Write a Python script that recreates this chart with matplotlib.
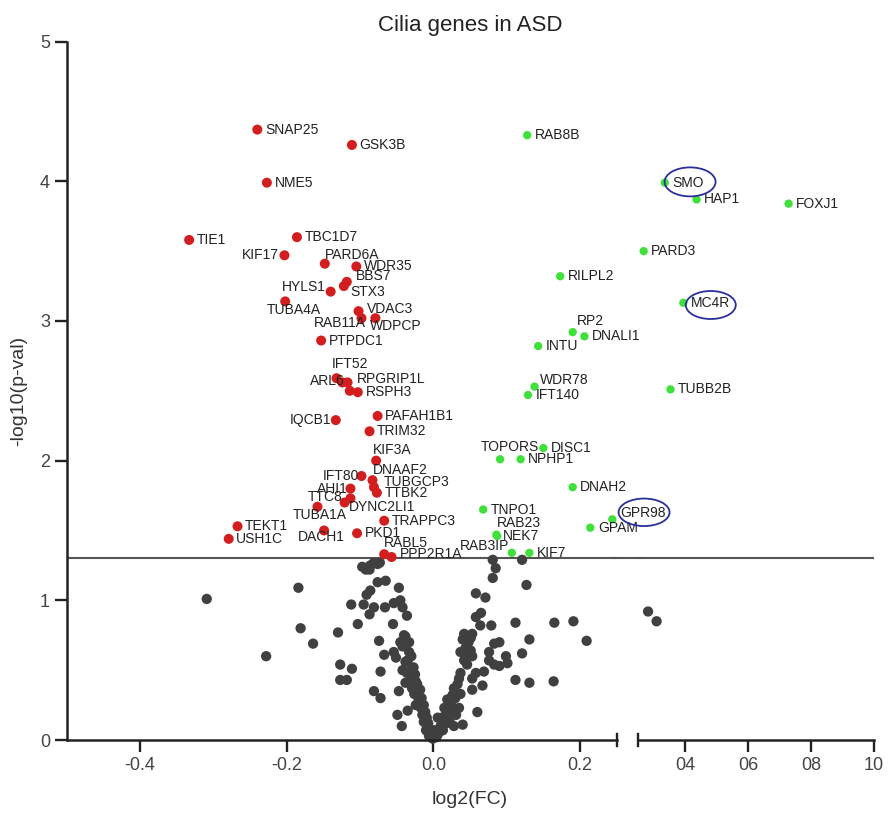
import matplotlib
matplotlib.use("Agg")
import matplotlib.pyplot as plt
from matplotlib.patches import Ellipse
from matplotlib.lines import Line2D
import matplotlib.transforms as mtransforms

plt.rcParams['font.family'] = ['Liberation Sans', 'DejaVu Sans']

# significant, down-regulated cilia genes
red_genes = ['SNAP25', 'GSK3B', 'NME5', 'TIE1', 'TBC1D7', 'KIF17', 'PARD6A', 'WDR35',
             'BBS7', 'STX3', 'HYLS1', 'TUBA4A', 'VDAC3', 'RAB11A', 'WDPCP', 'PTPDC1',
             'IFT52', 'ARL6', 'RPGRIP1L', '', 'RSPH3', 'IQCB1', 'PAFAH1B1', 'TRIM32',
             'KIF3A', 'IFT80', 'DNAAF2', 'TUBGCP3', 'TTBK2', 'AHI1', 'TTC8', 'DYNC2LI1',
             'TUBA1A', 'TEKT1', 'USH1C', 'DACH1', 'PKD1', 'TRAPPC3', 'RABL5', 'PPP2R1A']
red_fc = [-0.240, -0.111, -0.227, -0.333, -0.186, -0.203, -0.148, -0.105,
          -0.118, -0.122, -0.140, -0.202, -0.102, -0.098, -0.079, -0.153,
          -0.132, -0.124, -0.117, -0.114, -0.103, -0.133, -0.076, -0.087,
          -0.078, -0.098, -0.083, -0.081, -0.077, -0.113, -0.113, -0.121,
          -0.158, -0.267, -0.279, -0.149, -0.104, -0.067, -0.067, -0.057]
red_p = [4.37, 4.26, 3.99, 3.58, 3.60, 3.47, 3.41, 3.39,
         3.28, 3.25, 3.21, 3.14, 3.07, 3.02, 3.02, 2.86,
         2.59, 2.56, 2.56, 2.50, 2.49, 2.29, 2.32, 2.21,
         2.00, 1.89, 1.86, 1.81, 1.77, 1.80, 1.73, 1.70,
         1.67, 1.53, 1.44, 1.50, 1.48, 1.57, 1.33, 1.31]

# significant, up-regulated cilia genes
green_genes = ['RAB8B', 'SMO', 'HAP1', 'FOXJ1', 'PARD3', 'RILPL2', 'MC4R', 'RP2',
               'DNALI1', 'INTU', 'WDR78', 'IFT140', 'TUBB2B', 'DISC1', 'TOPORS', 'NPHP1',
               'DNAH2', 'TNPO1', 'GPR98', 'GPAM', 'RAB23', 'NEK7', 'RAB3IP', 'KIF7']
green_fc = [0.128, 0.336, 0.437, 0.729, 0.269, 0.173, 0.395, 0.190,
            0.206, 0.143, 0.138, 0.129, 0.354, 0.150, 0.091, 0.119,
            0.190, 0.068, 0.244, 0.214, 0.086, 0.087, 0.107, 0.131]
green_p = [4.33, 3.99, 3.87, 3.84, 3.50, 3.32, 3.13, 2.92,
           2.89, 2.82, 2.53, 2.47, 2.51, 2.09, 2.01, 2.01,
           1.81, 1.65, 1.58, 1.52, 1.47, 1.46, 1.34, 1.34]

# non-significant genes
gray_fc = [-0.097, -0.090, -0.086, -0.081, -0.076, -0.073, -0.092, -0.087,
           -0.076, -0.065, -0.047, -0.086, -0.091, -0.112, -0.095, -0.081, -0.066,
           -0.054, -0.045, -0.042, -0.087, -0.036, -0.103, -0.055, -0.130, -0.040,
           -0.074, -0.045, -0.042, -0.054, -0.033, -0.067, -0.051, -0.127, -0.111,
           -0.038, -0.042, -0.072, -0.036, -0.127, -0.118, -0.031, -0.024, -0.038,
           -0.029, -0.081, -0.047, -0.072, -0.022, -0.020, -0.024, -0.035, -0.017,
           -0.049, -0.015, -0.013, -0.043, -0.008, -0.004, -0.001,
           -0.030, -0.027, -0.025, -0.022, -0.018, -0.016, -0.013, -0.011, -0.009,
           -0.007, -0.005, -0.003, -0.020, -0.026, -0.031, -0.035, -0.033, -0.038,
           -0.028, -0.010, -0.006,
           -0.309, -0.184, -0.181, -0.164, -0.228,
           0.081, 0.085, 0.121, 0.081, 0.127, 0.058, 0.071, 0.065, 0.058, 0.064,
           0.079, 0.112, 0.042, 0.053, 0.040, 0.051, 0.090, 0.083, 0.131, 0.037,
           0.051, 0.053, 0.076, 0.121, 0.099, 0.042, 0.046, 0.076, 0.083, 0.090,
           0.101, 0.058, 0.069, 0.037, 0.053, 0.035, 0.112, 0.131, 0.067, 0.053,
           0.028, 0.026, 0.037, 0.019, 0.024, 0.015, 0.035, 0.060, 0.006, 0.017,
           0.040, 0.028, 0.010, 0.001, 0.006,
           0.004, 0.008, 0.012, 0.015, 0.020, 0.024, 0.030, 0.033, 0.028, 0.018,
           0.045, 0.044, 0.048, 0.022, 0.031, 0.013,
           0.165, 0.191, 0.209, 0.164, 0.283, 0.310]
gray_p = [1.24, 1.23, 1.25, 1.27, 1.26, 1.27, 1.22, 1.22,
          1.13, 1.14, 1.09, 1.07, 1.04, 0.97, 0.97, 0.95, 0.95,
          0.98, 1.00, 0.95, 0.90, 0.89, 0.83, 0.83, 0.77, 0.75,
          0.71, 0.70, 0.67, 0.63, 0.63, 0.61, 0.59, 0.54, 0.51,
          0.56, 0.50, 0.49, 0.48, 0.43, 0.43, 0.44, 0.42, 0.41,
          0.37, 0.35, 0.35, 0.30, 0.33, 0.29, 0.25, 0.21, 0.23,
          0.18, 0.18, 0.13, 0.10, 0.10, 0.05, 0.01,
          0.60, 0.52, 0.47, 0.40, 0.36, 0.30, 0.25, 0.20, 0.16,
          0.12, 0.08, 0.05, 0.27, 0.33, 0.50, 0.57, 0.70, 0.74,
          0.44, 0.07, 0.03,
          1.01, 1.09, 0.80, 0.69, 0.60,
          1.29, 1.23, 1.29, 1.16, 1.11, 1.05, 1.02, 0.91, 0.88, 0.82,
          0.82, 0.84, 0.76, 0.76, 0.72, 0.73, 0.70, 0.69, 0.72, 0.63,
          0.64, 0.60, 0.63, 0.62, 0.60, 0.57, 0.54, 0.57, 0.54, 0.53,
          0.55, 0.48, 0.49, 0.48, 0.44, 0.44, 0.43, 0.41, 0.39, 0.36,
          0.37, 0.32, 0.33, 0.29, 0.25, 0.23, 0.23, 0.20, 0.16, 0.13,
          0.11, 0.10, 0.10, 0.07, 0.04,
          0.02, 0.06, 0.11, 0.17, 0.20, 0.28, 0.30, 0.40, 0.21, 0.12,
          0.60, 0.66, 0.70, 0.14, 0.18, 0.07,
          0.84, 0.85, 0.71, 0.42, 0.92, 0.85]

p_cutoff = 1.301  # -log10(0.05)

left_ticks = [-0.4, -0.2, 0.0, 0.2]
left_ticklabels = ['-0.4', '-0.2', '0.0', '0.2']
right_ticks = [0.4, 0.6, 0.8, 1.0]
right_ticklabels = ['04', '06', '08', '10']

# label placement: (dx, dy in points, horizontal alignment)
label_pos = {
    'KIF17': (-4, 0, 'right'), 'PARD6A': (0, 6.5, 'left'), 'BBS7': (6.5, 4.3, 'left'),
    'STX3': (5, -4, 'left'), 'HYLS1': (-3.6, 3, 'right'), 'TUBA4A': (6.5, -6, 'center'),
    'VDAC3': (6, 1.5, 'left'), 'RAB11A': (3, -3.6, 'right'), 'WDPCP': (-3.6, -6, 'left'),
    'IFT52': (10, 10, 'center'), 'ARL6': (1.5, 0.7, 'right'), 'RPGRIP1L': (7, 2.5, 'left'),
    'IQCB1': (-3.6, 0, 'right'), 'KIF3A': (-2, 8, 'left'), 'IFT80': (-2, 0, 'right'),
    'DNAAF2': (0, 7, 'left'), 'TUBGCP3': (6.8, 3.6, 'left'), 'AHI1': (-2, 0, 'right'),
    'TTC8': (-5.8, 1, 'right'), 'DYNC2LI1': (3, -3.3, 'left'), 'TUBA1A': (2, -6, 'center'),
    'DACH1': (-2, -4.8, 'center'), 'RABL5': (0, 8, 'left'), 'PPP2R1A': (6, 2.5, 'left'),
    'RP2': (3, 8, 'left'), 'WDR78': (3.6, 4.8, 'left'), 'TOPORS': (7, 9, 'center'),
    'GPR98': (6, 4.8, 'left'), 'RAB23': (0, 8.6, 'left'), 'NEK7': (4, 0, 'left'),
    'RAB3IP': (-2, 4.8, 'right'),
}
# ellipse drawn round a label: centre offset and size, inches
ring_geom = {
    'SMO': (0.253, 0.008, 0.51, 0.29),
    'MC4R': (0.274, -0.022, 0.50, 0.28),
    'GPR98': (0.318, 0.07, 0.51, 0.275),
}

RED = '#d21e1e'
GREEN = '#3fe03a'
GRAY = '#404040'
INK = '#222222'

fig = plt.figure(figsize=(8.9, 8.14), dpi=100)
ax = fig.add_axes([0.0749, 0.0909, 0.618, 0.858])
ax2 = fig.add_axes([0.7165, 0.0909, 0.2655, 0.858])
split = 0.25
ax.set_xlim(-0.5, split)
ax2.set_xlim(split, 1.0)
for a in (ax, ax2):
    a.set_ylim(0, 5)
    a.patch.set_alpha(0)
    for s in ('top', 'right'):
        a.spines[s].set_visible(False)
    for s in ('left', 'bottom'):
        a.spines[s].set_linewidth(1.8)
        a.spines[s].set_color(INK)
    a.tick_params(direction='out', length=8.5, width=1.7, color=INK,
                  labelsize=13, labelcolor='#444444', pad=3.5)
    a.axhline(p_cutoff, color='#555555', lw=1.5, zorder=1)

ax.set_yticks(range(6))
ax.set_xticks(left_ticks)
ax.set_xticklabels(left_ticklabels)
ax2.spines['left'].set_visible(False)
ax2.set_yticks([])
ax2.set_xticks(right_ticks)
ax2.set_xticklabels(right_ticklabels)

# carry the cutoff line over the axis break
bridge = mtransforms.blended_transform_factory(fig.transFigure, ax.transData)
fig.add_artist(Line2D([0.69, 0.72], [p_cutoff, p_cutoff], transform=bridge,
                      color='#555555', lw=1.5))

# break marks at both ends of the gap
d = 0.009
ax.plot([1, 1], [-d, d], transform=ax.transAxes, color=INK, lw=1.7, clip_on=False)
ax2.plot([0, 0], [-d, d], transform=ax2.transAxes, color=INK, lw=1.7, clip_on=False)


def pick(xs, ys, right):
    keep = [i for i, x in enumerate(xs) if (x > split) == right]
    return keep, [xs[i] for i in keep], [ys[i] for i in keep]


for a, right in ((ax, False), (ax2, True)):
    for xs, ys, col, size, z in ((gray_fc, gray_p, GRAY, 55, 2),
                                 (red_fc, red_p, RED, 52, 3),
                                 (green_fc, green_p, GREEN, 36, 3)):
        _, px, py = pick(xs, ys, right)
        if px:
            a.scatter(px, py, s=size, color=col, edgecolors='none', zorder=z, clip_on=False)

    for genes, xs, ys in ((red_genes, red_fc, red_p), (green_genes, green_fc, green_p)):
        idx, _, _ = pick(xs, ys, right)
        for i in idx:
            g = genes[i]
            if not g:
                continue
            dx, dy, ha = label_pos.get(g, (5.5, 0, 'left'))
            a.annotate(g, (xs[i], ys[i]), xytext=(dx, dy), textcoords='offset points',
                       ha=ha, va='center', fontsize=10, color=INK, zorder=4,
                       annotation_clip=False)
            if g in ring_geom:
                cx, cy, w, h = ring_geom[g]
                tr = fig.dpi_scale_trans + mtransforms.ScaledTranslation(xs[i], ys[i], a.transData)
                a.add_patch(Ellipse((cx, cy), w, h, transform=tr, fill=False,
                                    edgecolor='#2b2f9c', lw=1.3, clip_on=False, zorder=5))

fig.text(0.528, 0.969, 'Cilia genes in ASD', ha='center', va='center', fontsize=16, color=INK)
fig.text(0.528, 0.018, 'log2(FC)', ha='center', va='center', fontsize=14, color='#333333')
fig.text(0.021, 0.52, '-log10(p-val)', ha='center', va='center', rotation=90,
         fontsize=14, color='#333333')

fig.savefig('out.png', dpi=100)
